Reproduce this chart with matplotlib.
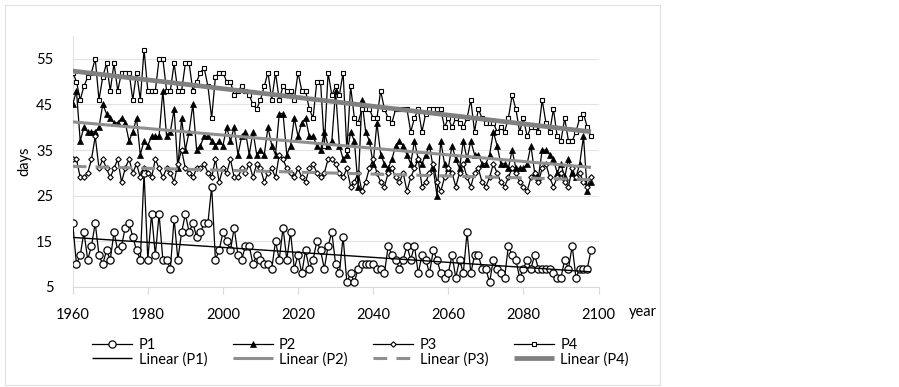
import numpy as np
import matplotlib
matplotlib.use("Agg")
import matplotlib.pyplot as plt
from matplotlib.patches import Rectangle

plt.rcParams['font.family'] = ['Lato', 'DejaVu Sans']

# yearly values (days), 1960 - 2098
p1 = [19, 10, 12, 17, 11, 14, 19, 12, 10, 13,
      11, 17, 13, 14, 18, 19, 16, 13, 11, 30,
      11, 21, 12, 21, 11, 11, 9, 20, 11, 17,
      21, 17, 19, 16, 17, 19, 19, 27, 11, 13,
      17, 15, 13, 18, 12, 11, 14, 14, 10, 12,
      11, 10, 10, 9, 15, 11, 18, 11, 17, 9,
      12, 8, 13, 9, 11, 15, 13, 9, 14, 17,
      10, 8, 16, 6, 8, 6, 9, 10, 10, 10,
      10, 9, 9, 8, 14, 12, 11, 9, 11, 14,
      11, 14, 8, 12, 11, 8, 13, 11, 8, 7,
      8, 12, 7, 11, 8, 17, 8, 12, 12, 9,
      9, 6, 11, 9, 8, 7, 14, 12, 11, 7,
      9, 11, 9, 12, 9, 9, 9, 9, 8, 7,
      7, 11, 9, 14, 7, 9, 9, 9, 13]
p2 = [45, 48, 37, 40, 39, 39, 39, 40, 45, 43,
      42, 41, 41, 42, 41, 37, 39, 42, 34, 37,
      36, 38, 38, 38, 48, 38, 39, 44, 31, 42,
      35, 39, 45, 35, 36, 38, 38, 37, 36, 37,
      36, 40, 37, 40, 34, 38, 39, 34, 39, 34,
      35, 34, 40, 36, 34, 43, 43, 34, 36, 42,
      38, 41, 42, 38, 38, 36, 35, 39, 36, 37,
      48, 36, 33, 34, 39, 37, 27, 46, 39, 37,
      32, 41, 34, 32, 31, 33, 36, 37, 36, 34,
      32, 37, 33, 32, 34, 36, 31, 25, 37, 32,
      31, 36, 33, 31, 37, 33, 37, 34, 34, 32,
      32, 34, 39, 36, 32, 32, 31, 35, 31, 31,
      31, 32, 36, 30, 29, 35, 35, 34, 33, 30,
      32, 29, 33, 30, 29, 32, 38, 26, 28]
p3 = [33, 33, 29, 29, 30, 33, 38, 31, 33, 31,
      29, 31, 33, 28, 31, 33, 30, 32, 29, 31,
      30, 29, 33, 31, 29, 31, 30, 28, 32, 35,
      31, 30, 29, 31, 31, 32, 30, 29, 33, 28,
      31, 30, 33, 29, 29, 31, 30, 32, 29, 32,
      31, 28, 30, 31, 29, 34, 33, 31, 30, 29,
      31, 29, 28, 31, 32, 30, 29, 30, 33, 33,
      32, 30, 29, 31, 27, 28, 30, 26, 28, 31,
      33, 30, 28, 27, 30, 31, 29, 28, 30, 26,
      29, 31, 33, 27, 28, 30, 32, 28, 26, 29,
      31, 30, 27, 30, 32, 29, 27, 30, 31, 28,
      27, 29, 32, 30, 28, 27, 29, 31, 30, 28,
      27, 26, 29, 30, 28, 31, 32, 29, 27, 29,
      30, 28, 27, 31, 29, 30, 28, 27, 29]
p4 = [52, 50, 46, 49, 51, 52, 55, 46, 51, 54,
      48, 54, 48, 52, 52, 52, 46, 52, 46, 57,
      48, 48, 48, 55, 55, 48, 48, 54, 48, 48,
      54, 54, 48, 50, 52, 53, 49, 42, 51, 52,
      52, 50, 50, 47, 48, 49, 48, 47, 45, 44,
      46, 49, 52, 46, 52, 46, 49, 48, 48, 46,
      52, 48, 48, 44, 42, 50, 50, 36, 52, 47,
      49, 47, 52, 35, 49, 42, 41, 44, 44, 44,
      42, 42, 48, 44, 42, 41, 44, 44, 44, 44,
      39, 42, 44, 39, 43, 44, 44, 44, 44, 40,
      42, 40, 42, 41, 40, 42, 46, 39, 44, 42,
      41, 41, 41, 39, 40, 39, 42, 47, 44, 39,
      42, 38, 40, 40, 39, 46, 41, 39, 44, 38,
      37, 42, 37, 37, 39, 42, 43, 40, 38]
series_names = ['P1', 'P2', 'P3', 'P4']
start_year = 1960

fig = plt.figure(figsize=(8.99, 3.87), dpi=100)
fig.add_artist(Rectangle((5 / 899, 2 / 387), 655 / 899, 380 / 387, transform=fig.transFigure,
                         fill=False, edgecolor='#e0e0e0', linewidth=0.8))
ax = fig.add_axes([72.7 / 899, 1 - 287 / 387, 525.8 / 899, 251 / 387])

marker_style = {
    'P1': dict(marker='o', markersize=5.2, markerfacecolor='white', markeredgewidth=0.9),
    'P2': dict(marker='^', markersize=4.0, markerfacecolor='black', markeredgewidth=0.5),
    'P3': dict(marker='D', markersize=2.8, markerfacecolor='white', markeredgewidth=0.8),
    'P4': dict(marker='s', markersize=3.2, markerfacecolor='white', markeredgewidth=0.8),
}
trend_style = {
    'P1': dict(color='black', linewidth=1.0),
    'P2': dict(color='#8f8f8f', linewidth=2.2),
    'P3': dict(color='#8f8f8f', linewidth=2.2, dashes=(4.5, 3)),
    'P4': dict(color='#808080', linewidth=3.4),
}

handles = []
for name, vals in zip(series_names, [p1, p2, p3, p4]):
    years = start_year + np.arange(len(vals))
    h, = ax.plot(years, vals, color='black', linewidth=0.9, label=name, zorder=3,
                 **marker_style[name])
    k, b = np.polyfit(years, vals, 1)
    t, = ax.plot(years, k * years + b, label='Linear (%s)' % name, zorder=4,
                 solid_capstyle='butt', **trend_style[name])
    handles += [h, t]

ax.set_xlim(1960, 2100)
ax.set_ylim(5, 60)
ax.set_xticks(range(1960, 2101, 20))
ax.set_yticks(range(5, 56, 10))
ax.yaxis.grid(True, color='#e3e3e3', linewidth=0.8, zorder=0)
ax.set_axisbelow(True)
for s in ['top', 'right']:
    ax.spines[s].set_visible(False)
ax.spines['left'].set_color('#e3e3e3')
ax.spines['bottom'].set_color('#d9d9d9')
ax.tick_params(axis='y', length=0, labelsize=10.5, pad=14)
ax.tick_params(axis='x', length=5, color='#d9d9d9', labelsize=10.5, pad=10)
ax.set_ylabel('days', fontsize=10.5, labelpad=3)
fig.text(643 / 899, 1 - 312 / 387, 'year', fontsize=10.5, ha='center', va='center')

fig.legend(handles=handles, loc='upper left', bbox_to_anchor=(92 / 899, 1 - 338 / 387),
           ncol=4, frameon=False, fontsize=10.5, handlelength=2.74, handletextpad=0.45,
           columnspacing=1.75, labelspacing=0.0, borderpad=0, borderaxespad=0)

fig.savefig('out.png', dpi=100)
